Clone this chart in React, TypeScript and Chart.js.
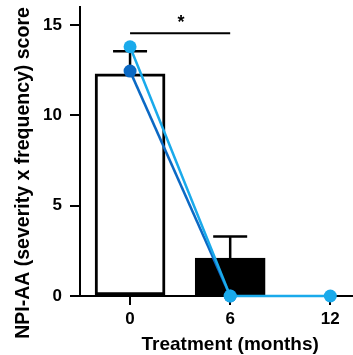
import React, { useEffect, useRef } from "react";
import { Chart, registerables } from "chart.js";

Chart.register(...registerables);

const months = [0, 6, 12];
const barMonths = [0, 6];
const barMeans = [12.3, 2.1];
const barErrUpper = [13.55, 3.3];
const patientA = [12.45, 0];
const patientB = [13.8, 0, 0];
const yTicks = [0, 5, 10, 15];
const xTicks = [0, 6, 12];
const sigFrom = 0;
const sigTo = 6;
const sigLevel = 14.55;
const sigLabel = "*";
const xTitle = "Treatment (months)";
const yTitle = "NPI-AA (severity x frequency) score";

const FONT = "'Liberation Sans', Arial, Helvetica, sans-serif";

const errorBarPlugin = {
  id: "errorBars",
  afterDatasetDraw(chart: any, args: any) {
    if (args.index !== 0) return;
    const ctx = chart.ctx;
    const xs = chart.scales.x;
    const ys = chart.scales.y;
    ctx.save();
    ctx.strokeStyle = "#000";
    ctx.lineWidth = 2.5;
    barMonths.forEach((m, i) => {
      const x = xs.getPixelForValue(m);
      const y0 = ys.getPixelForValue(barMeans[i]);
      const y1 = ys.getPixelForValue(barErrUpper[i]);
      ctx.beginPath();
      ctx.moveTo(x, y0);
      ctx.lineTo(x, y1);
      ctx.moveTo(x - 17, y1);
      ctx.lineTo(x + 17, y1);
      ctx.stroke();
    });
    ctx.restore();
  },
  afterDatasetsDraw(chart: any) {
    const ctx = chart.ctx;
    const xs = chart.scales.x;
    const ys = chart.scales.y;
    const x = (xs.getPixelForValue(sigFrom) + xs.getPixelForValue(sigTo)) / 2;
    const y = ys.getPixelForValue(sigLevel);
    ctx.save();
    ctx.fillStyle = "#000";
    ctx.font = `bold 18px ${FONT}`;
    ctx.textAlign = "center";
    ctx.textBaseline = "middle";
    ctx.fillText(sigLabel, x + 1, y - 10);
    // x-axis title centred over the tick range
    const tx =
      (xs.getPixelForValue(xTicks[0]) + xs.getPixelForValue(xTicks[xTicks.length - 1])) / 2;
    ctx.font = `bold 19px ${FONT}`;
    ctx.fillText(xTitle, tx, xs.bottom - 10);
    // y-axis title
    ctx.translate(24, 173);
    ctx.rotate(-Math.PI / 2);
    ctx.font = `bold 19.5px ${FONT}`;
    ctx.fillText(yTitle, 0, 0);
    ctx.restore();
  },
};

export default function App() {
  const ref = useRef<HTMLCanvasElement | null>(null);
  useEffect(() => {
    if (!ref.current) return;
    const chart = new Chart(ref.current, {
      type: "bar",
      data: {
        datasets: [
          {
            type: "bar",
            data: barMonths.map((m, i) => ({ x: m, y: barMeans[i] })),
            backgroundColor: ["#ffffff", "#000000"],
            borderColor: "#000",
            borderWidth: 3,
            borderSkipped: false,
            barThickness: 70,
            order: 3,
          } as any,
          {
            type: "line",
            data: [
              { x: sigFrom, y: sigLevel },
              { x: sigTo, y: sigLevel },
            ],
            borderColor: "#000",
            borderWidth: 2,
            pointRadius: 0,
            order: 2,
            clip: false,
          } as any,
          {
            type: "line",
            data: patientA.map((v, i) => ({ x: months[i], y: v })),
            borderColor: "#0b69c4",
            backgroundColor: "#0b69c4",
            borderWidth: 2.5,
            pointRadius: 6.5,
            pointBorderWidth: 0,
            order: 1,
            clip: false,
          } as any,
          {
            type: "line",
            data: patientB.map((v, i) => ({ x: months[i], y: v })),
            borderColor: "#1aaaeb",
            backgroundColor: "#1aaaeb",
            borderWidth: 2.5,
            pointRadius: 6.5,
            pointBorderWidth: 0,
            order: 0,
            clip: false,
          } as any,
        ],
      },
      options: {
        responsive: false,
        animation: false,
        layout: { autoPadding: false, padding: { top: 7, right: 1, left: 0, bottom: 0 } },
        plugins: {
          legend: { display: false },
          tooltip: { enabled: false },
        },
        scales: {
          x: {
            type: "linear",
            min: -3,
            max: 13.3,
            offset: false,
            afterBuildTicks: (axis: any) => {
              axis.ticks = xTicks.map((v) => ({ value: v }));
            },
            afterFit: (axis: any) => {
              axis.height = 59;
              axis.paddingLeft = 0;
              axis.paddingRight = 0;
            },
            grid: {
              offset: false,
              drawOnChartArea: false,
              drawTicks: true,
              tickLength: 9,
              color: "#000",
              lineWidth: 2,
            },
            border: { color: "#000", width: 2 },
            ticks: {
              color: "#000",
              padding: 4,
              maxRotation: 0,
              font: { family: FONT, size: 17, weight: "bold" },
            },
            title: { display: false },
          },
          y: {
            type: "linear",
            min: 0,
            max: 16,
            afterBuildTicks: (axis: any) => {
              axis.ticks = yTicks.map((v) => ({ value: v }));
            },
            afterFit: (axis: any) => {
              axis.width = 80;
              axis.paddingTop = 0;
              axis.paddingBottom = 0;
            },
            grid: {
              drawOnChartArea: false,
              drawTicks: true,
              tickLength: 10,
              color: "#000",
              lineWidth: 2,
            },
            border: { color: "#000", width: 2 },
            ticks: {
              color: "#000",
              padding: 8,
              font: { family: FONT, size: 17, weight: "bold" },
            },
            title: { display: false },
          },
        },
      } as any,
      plugins: [errorBarPlugin],
    });
    return () => chart.destroy();
  }, []);
  return (
    <div style={{ position: "absolute", left: 0, top: 0, width: 353, height: 355, background: "#fff" }}>
      <canvas ref={ref} width={353} height={355} />
    </div>
  );
}
